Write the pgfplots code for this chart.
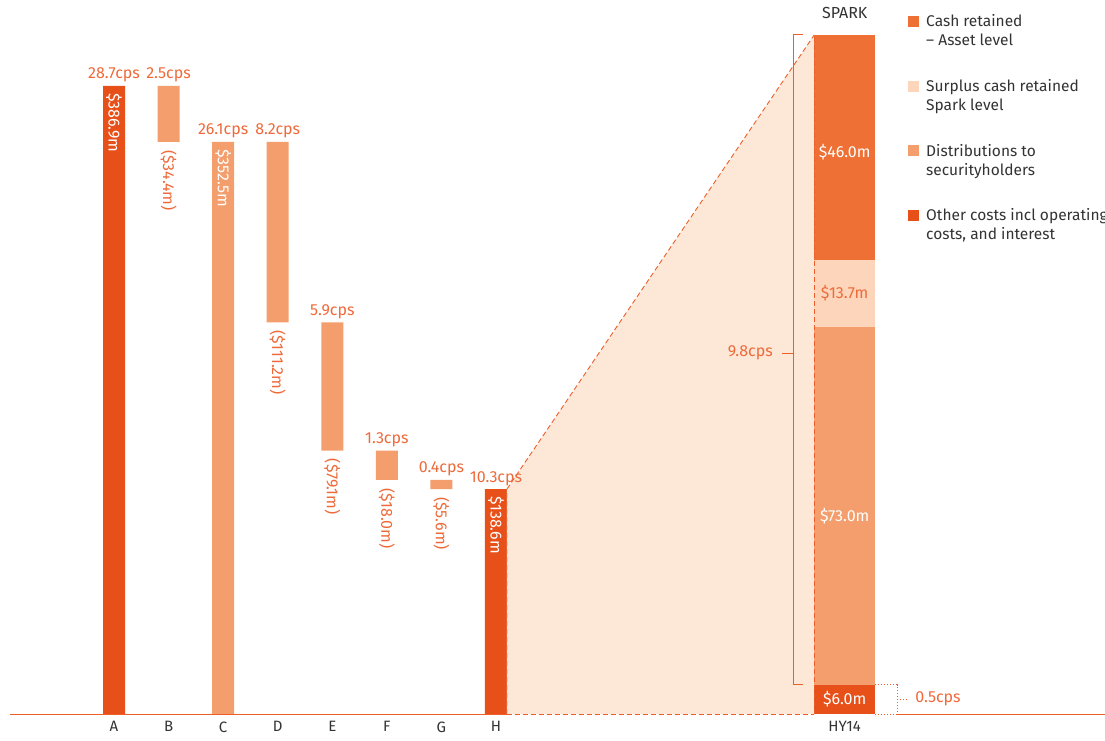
\documentclass[border=0pt]{standalone}
\usepackage{fontspec}
\setmainfont{Fira Sans}
\usepackage{pgfplots}
\pgfplotsset{compat=1.18}
\definecolor{dark}{HTML}{E8501A}
\definecolor{light}{HTML}{F39E6C}
\definecolor{asset}{HTML}{EE7034}
\definecolor{surplus}{HTML}{FDD5BB}
\definecolor{shade}{HTML}{FDE8D8}
\definecolor{otxt}{HTML}{EE6A3A}
\definecolor{oline}{HTML}{EC5F2A}
\definecolor{gtxt}{HTML}{333333}
\pgfplotsset{base/.style={at={(10pt,26pt)}, anchor=south west, scale only axis,
  width=1095pt, height=679pt, xmin=-1.906, xmax=18.16, ymin=0, clip=false}}
\tikzset{lbl/.style={font=\fontsize{16}{19}\selectfont, text=otxt},
  rlbl/.style={font=\fontsize{16}{19}\selectfont, rotate=-90, anchor=west, inner sep=0pt},
  dl/.style={oline, line width=0.9pt, dash pattern=on 5pt off 3pt},
  leg/.style={font=\fontsize{15.5}{18}\selectfont, text=gtxt, anchor=base west, inner sep=0pt}}
\begin{document}
\begin{tikzpicture}[x=1pt,y=1pt]
\useasboundingbox (0,0) rectangle (1105,740);
% waterfall bars
\begin{axis}[base, ymax=418.3, ybar stacked, bar width=22pt,
  axis line style={draw=none}, ytick=\empty, major tick length=0pt, tick style={draw=none},
  xtick={0,1,2,3,4,5,6,7,13.39}, xticklabels={A,B,C,D,E,F,G,H,HY14},
  xticklabel style={font=\fontsize{15}{18}\selectfont, text=gtxt, yshift=-4pt}]
\addplot[draw=none, fill=none] coordinates {(0,0) (1,352.5) (2,0) (3,241.3) (4,162.2) (5,144.2) (6,138.6) (7,0)};
\addplot[draw=none, fill=dark] coordinates {(0,386.9) (1,0) (2,0) (3,0) (4,0) (5,0) (6,0) (7,138.6)};
\addplot[draw=none, fill=light] coordinates {(0,0) (1,34.4) (2,352.5) (3,111.2) (4,79.1) (5,18.0) (6,5.6) (7,0)};
\end{axis}
% shaded bridge, baseline and labels
\begin{axis}[base, ymax=418.3, hide axis]
\addplot[fill=shade, draw=none] coordinates {(7.2016,138.6) (12.831,418.3)} \closedcycle;
\addplot[dl] coordinates {(7.2016,138.6) (12.831,418.3)};
\addplot[dl] coordinates {(7.2016,0) (12.831,0)};
\addplot[shade!60!light, line width=0.9pt, dash pattern=on 5pt off 3pt] coordinates {(7.2016,0) (7.2016,138.6)};
\addplot[oline, line width=1pt] coordinates {(-1.906,0) (7.2016,0)};
\addplot[oline, line width=1pt] coordinates {(14.35,0) (18.16,0)};
% top labels
\node[lbl, anchor=base] at ([yshift=7pt]axis cs:0,386.9) {28.7cps};
\node[lbl, anchor=base] at ([yshift=7pt]axis cs:1,386.9) {2.5cps};
\node[lbl, anchor=base] at ([yshift=7pt]axis cs:2,352.5) {26.1cps};
\node[lbl, anchor=base] at ([yshift=7pt]axis cs:3,352.5) {8.2cps};
\node[lbl, anchor=base] at ([yshift=7pt]axis cs:4,241.3) {5.9cps};
\node[lbl, anchor=base] at ([yshift=7pt]axis cs:5,162.2) {1.3cps};
\node[lbl, anchor=base] at ([yshift=7pt]axis cs:6,144.2) {0.4cps};
\node[lbl, anchor=base] at ([yshift=7pt]axis cs:7,138.6) {10.3cps};
% rotated labels
\node[rlbl, text=white] at ([yshift=-7pt]axis cs:0,386.9) {\$386.9m};
\node[rlbl, text=otxt] at ([yshift=-8pt]axis cs:1,352.5) {(\$34.4m)};
\node[rlbl, text=white] at ([yshift=-7pt]axis cs:2,352.5) {\$352.5m};
\node[rlbl, text=otxt] at ([yshift=-8pt]axis cs:3,241.3) {(\$111.2m)};
\node[rlbl, text=otxt] at ([yshift=-8pt]axis cs:4,162.2) {(\$79.1m)};
\node[rlbl, text=otxt] at ([yshift=-8pt]axis cs:5,144.2) {(\$18.0m)};
\node[rlbl, text=otxt] at ([yshift=-8pt]axis cs:6,138.6) {(\$5.6m)};
\node[rlbl, text=white] at ([yshift=-7pt]axis cs:7,138.6) {\$138.6m};
\end{axis}
% HY14 stacked bar
\begin{axis}[base, ymax=138.7, hide axis, ybar stacked, bar width=61pt]
\addplot[draw=none, fill=dark] coordinates {(13.39,6.0)};
\addplot[draw=none, fill=light] coordinates {(13.39,73.0)};
\addplot[draw=none, fill=surplus] coordinates {(13.39,13.7)};
\addplot[draw=none, fill=asset] coordinates {(13.39,46.0)};
\end{axis}
% HY14 annotations
\begin{axis}[base, ymax=138.7, hide axis]
\draw[dl] (axis cs:12.831,0) -- (axis cs:12.831,138.7);
\draw[oline, line width=1pt] (axis cs:12.626,138.7) -- (axis cs:12.443,138.7) -- (axis cs:12.443,6.0) -- (axis cs:12.626,6.0);
\draw[oline, line width=1pt] (axis cs:12.24,73.7) -- (axis cs:12.443,73.7);
\node[lbl, anchor=east, inner sep=0pt] at ([xshift=-9pt]axis cs:12.24,73.7) {9.8cps};
\draw[oline, line width=1pt, dotted] (axis cs:13.949,6.0) -- (axis cs:14.35,6.0) -- (axis cs:14.35,0) -- (axis cs:13.949,0);
\draw[oline, line width=1pt, dotted] (axis cs:14.35,3.06) -- (axis cs:14.55,3.06);
\node[lbl, anchor=west, inner sep=0pt] at (axis cs:14.68,3.06) {0.5cps};
\node[lbl, text=white] at (axis cs:13.39,114.8) {\$46.0m};
\node[lbl, text=otxt] at (axis cs:13.39,86.0) {\$13.7m};
\node[lbl, text=white] at (axis cs:13.39,40.4) {\$73.0m};
\node[lbl, text=white] at (axis cs:13.39,3.06) {\$6.0m};
\node[font=\fontsize{16}{19}\selectfont, text=gtxt, anchor=base] at ([yshift=16pt]axis cs:13.39,138.7) {SPARK};
\end{axis}
% legend
\fill[asset] (908,713) rectangle (919,724);
\node[leg] at (926,713) {Cash retained};
\node[leg] at (926,694) {\textendash\ Asset level};
\fill[surplus] (908,648) rectangle (919,659);
\node[leg] at (926,648) {Surplus cash retained};
\node[leg] at (926,629) {Spark level};
\fill[light] (908,583.5) rectangle (919,594.5);
\node[leg] at (926,583.5) {Distributions to};
\node[leg] at (926,564.5) {securityholders};
\fill[dark] (908,519) rectangle (919,530);
\node[leg] at (926,519) {Other costs incl operating};
\node[leg] at (926,500) {costs, and interest};
\end{tikzpicture}
\end{document}
